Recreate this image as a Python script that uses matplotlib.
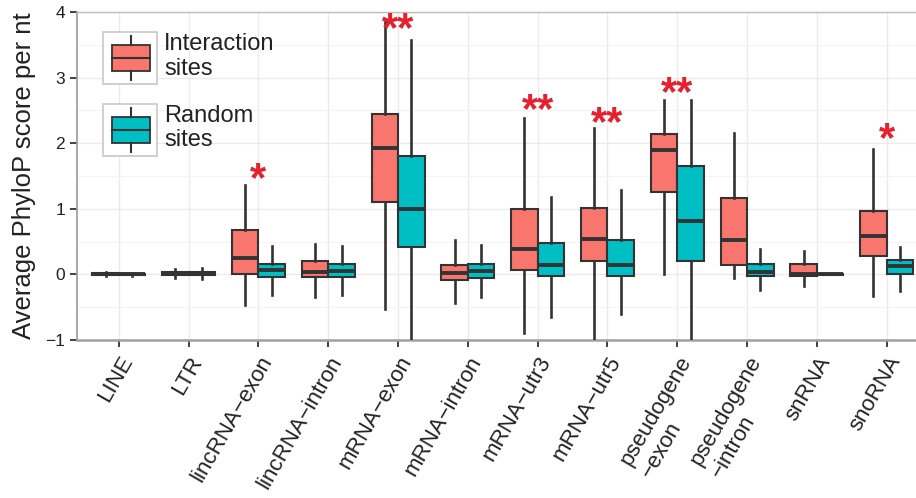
import numpy as np
import matplotlib
matplotlib.use("Agg")
import matplotlib.pyplot as plt
from matplotlib.patches import Rectangle, Patch
from matplotlib.lines import Line2D
from matplotlib.legend_handler import HandlerBase
from matplotlib.transforms import offset_copy

plt.rcParams['font.family'] = ['Liberation Sans', 'DejaVu Sans']

categories = ["LINE", "LTR", "lincRNA\u2212exon", "lincRNA\u2212intron", "mRNA\u2212exon",
              "mRNA\u2212intron", "mRNA\u2212utr3", "mRNA\u2212utr5", "pseudogene\n\u2212exon",
              "pseudogene\n\u2212intron", "snRNA", "snoRNA"]

# five-number summaries: whisker low, q1, median, q3, whisker high
inter_wlo = [-0.03, -0.06, -0.47, -0.35, -0.52, -0.44, -0.90, -1.10, 0.00, -0.06, -0.18, -0.33]
inter_q1  = [-0.01, -0.01, 0.00, -0.04, 1.10, -0.08, 0.06, 0.20, 1.25, 0.15, -0.03, 0.28]
inter_med = [0.00, 0.02, 0.25, 0.035, 1.93, 0.02, 0.38, 0.54, 1.89, 0.53, 0.00, 0.59]
inter_q3  = [0.015, 0.04, 0.67, 0.20, 2.45, 0.15, 0.99, 1.01, 2.14, 1.16, 0.16, 0.97]
inter_whi = [0.03, 0.08, 1.36, 0.47, 3.85, 0.52, 2.38, 2.23, 2.66, 2.16, 0.35, 1.91]

rand_wlo = [-0.02, -0.07, -0.31, -0.32, -1.20, -0.35, -0.65, -0.61, -1.10, -0.24, -0.01, -0.26]
rand_q1  = [-0.01, -0.01, -0.04, -0.04, 0.42, -0.06, -0.02, -0.02, 0.20, -0.02, -0.01, 0.00]
rand_med = [0.00, 0.02, 0.06, 0.05, 1.00, 0.05, 0.14, 0.15, 0.81, 0.035, 0.00, 0.13]
rand_q3  = [0.01, 0.04, 0.16, 0.16, 1.80, 0.16, 0.48, 0.53, 1.66, 0.16, 0.01, 0.22]
rand_whi = [0.02, 0.09, 0.43, 0.44, 3.57, 0.45, 1.18, 1.29, 2.66, 0.39, 0.01, 0.42]

sig_labels = ["", "", "*", "", "**", "", "**", "**", "**", "", "", "*"]
sig_y = [0, 0, 1.54, 0, 3.83, 0, 2.60, 2.40, 2.85, 0, 0, 2.15]

series_names = ["Interaction\nsites", "Random\nsites"]
c_inter = "#F8766D"
c_rand = "#00BFC4"
edge = "#333333"

fig = plt.figure(figsize=(9.16, 4.98), dpi=100)
ax = fig.add_axes([77/916, 1 - 340/498, 1 - 77/916, (340 - 12)/498])

n = len(categories)
pos = np.arange(n)
w = 0.38

def stats(wlo, q1, med, q3, whi):
    return [dict(whislo=a, q1=b, med=c, q3=d, whishi=e, fliers=[]) for a, b, c, d, e in zip(wlo, q1, med, q3, whi)]

common = dict(widths=w, patch_artist=True, showcaps=False, showfliers=False,
              whiskerprops=dict(color=edge, lw=1.9),
              medianprops=dict(color=edge, lw=2.8, solid_capstyle='butt'),
              zorder=3)
b1 = ax.bxp(stats(inter_wlo, inter_q1, inter_med, inter_q3, inter_whi), positions=pos - w/2,
            boxprops=dict(facecolor=c_inter, edgecolor=edge, lw=1.5), **common)
b2 = ax.bxp(stats(rand_wlo, rand_q1, rand_med, rand_q3, rand_whi), positions=pos + w/2,
            boxprops=dict(facecolor=c_rand, edgecolor=edge, lw=1.5), **common)

star_tr = offset_copy(ax.transData, fig=fig, x=0, y=-7, units='dots')
for i, (lab, yv) in enumerate(zip(sig_labels, sig_y)):
    if lab:
        ax.text(pos[i], yv, lab, color="#E6202C", fontsize=30, fontweight='bold', ha='center',
                va='center', transform=star_tr, zorder=5)

ax.set_xlim(-0.6, 11.42)
ax.set_ylim(-1, 4)
ax.set_yticks([-1, 0, 1, 2, 3, 4])
ax.set_yticks(np.arange(-0.5, 4, 1), minor=True)
ax.set_xticks(pos)
ax.set_xticklabels(categories, rotation=60, ha='right', va='top', rotation_mode='anchor',
                   fontsize=16, multialignment='left')
ax.tick_params(axis='y', labelsize=12.5, length=5, width=1.3, color='#333333', labelcolor='#222222')
ax.tick_params(axis='y', which='minor', length=0)
ax.tick_params(axis='x', length=5, width=1.3, color='#333333', labelcolor='#222222', pad=4)
ax.grid(True, which='major', color='#ebebeb', lw=1.0, zorder=0)
ax.grid(True, which='minor', axis='y', color='#f4f4f4', lw=0.8, zorder=0)
ax.set_axisbelow(True)
ax.spines['left'].set_color('#9a9a9a')
ax.spines['left'].set_linewidth(1.2)
ax.spines['bottom'].set_color('#a0a0a0')
ax.spines['bottom'].set_linewidth(1.8)
ax.spines['top'].set_color('#bdbdbd')
ax.spines['top'].set_linewidth(1.0)
ax.spines['right'].set_visible(False)
ax.set_ylabel("Average PhyloP score per nt", fontsize=18.5, color='#222222', labelpad=7)


class BoxHandler(HandlerBase):
    def create_artists(self, legend, orig_handle, xdescent, ydescent, width, height, fontsize, trans):
        x0, y0 = -xdescent, -ydescent
        fc = orig_handle.get_facecolor()
        bg = Rectangle((x0, y0), width, height, facecolor='white', edgecolor='#cfcfcf', lw=1.4,
                       transform=trans)
        bx = Rectangle((x0 + 0.16*width, y0 + 0.25*height), 0.70*width, 0.50*height,
                       facecolor=fc, edgecolor=edge, lw=1.3, transform=trans)
        xm = x0 + 0.51*width
        wh1 = Line2D([xm, xm], [y0 + 0.75*height, y0 + 0.92*height], color=edge, lw=1.5, transform=trans)
        wh2 = Line2D([xm, xm], [y0 + 0.08*height, y0 + 0.25*height], color=edge, lw=1.5, transform=trans)
        md = Line2D([x0 + 0.16*width, x0 + 0.86*width], [y0 + 0.5*height]*2, color=edge, lw=1.5,
                    transform=trans)
        return [bg, bx, wh1, wh2, md]

h1 = Patch(facecolor=c_inter)
h2 = Patch(facecolor=c_rand)
leg = ax.legend([h1, h2], series_names, handler_map={Patch: BoxHandler()},
                loc='upper left', bbox_to_anchor=(103/916, 1 - 32/498), bbox_transform=fig.transFigure,
                frameon=False, fontsize=17, handlelength=2.3, handleheight=3.0,
                handletextpad=0.28, labelspacing=0.85, borderpad=0, borderaxespad=0)
for t in leg.get_texts():
    t.set_color('#222222')
    t.set_linespacing(1.15)

fig.savefig("out.png", dpi=100)
